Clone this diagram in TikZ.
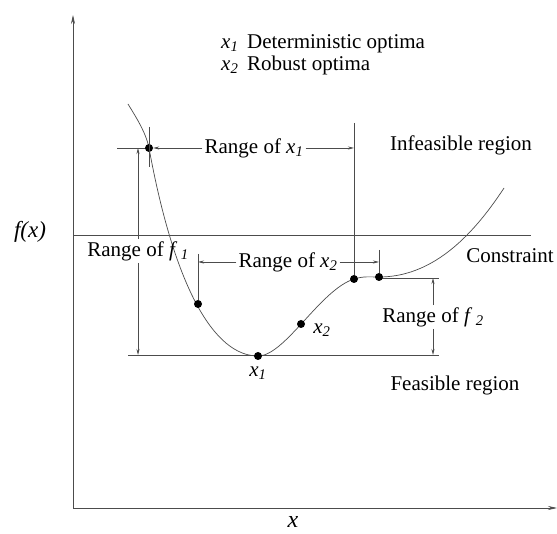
\documentclass[tikz,border=0pt]{standalone}
\usepackage{fontspec}
\setmainfont{Liberation Serif}
\usetikzlibrary{arrows.meta,positioning,calc}
\newcommand{\xsub}[2]{\textit{#1}\textsubscript{\textit{#2}}}

\begin{document}
\begin{tikzpicture}[x=1pt,y=-1pt,
    thinline/.style={draw=black!70, line width=0.7pt},
    dim/.style={thinline, -{Stealth[length=6pt,width=3pt]}},
    dot/.style={circle, fill=black, inner sep=0pt, minimum size=8pt},
    lbl/.style={font=\fontsize{21}{25}\selectfont, inner sep=2pt},
    >=Stealth
  ]
  \useasboundingbox (0,0) rectangle (557,534);

  % axes
  \coordinate (origin) at (73,508);
  \draw[thinline, -{Stealth[length=9pt,width=4pt]}] (origin) -- (73,15);
  \draw[thinline, -{Stealth[length=9pt,width=4pt]}] (origin) -- (557,508);
  \node[lbl, font=\fontsize{23}{27}\selectfont\itshape] (fx) at (30,232) {f(x)};
  \node[lbl, font=\fontsize{24}{28}\selectfont\itshape] (xlab) at (293,522) {x};

  % legend
  \node[lbl, anchor=west] (leg1) at (219,44) {\xsub{x}{1}\, Deterministic optima};
  \node[lbl, anchor=west] (leg2) at (219,65) {\xsub{x}{2}\, Robust optima};

  % reference lines
  \draw[thinline] (73,235) -- (531,235);
  \draw[thinline] (128,355) -- (439,355);
  \draw[thinline] (117,148) -- (149,148);
  \draw[thinline] (380,278) -- (439,278);

  % curve
  \draw[thinline] (128,104) .. controls (134,114) and (146,132) .. (149,148)
    .. controls (175,290) and (215,356) .. (258,356)
    .. controls (285,356) and (320,290) .. (354,279)
    .. controls (364,276) and (370,277) .. (379,277)
    .. controls (430,277) and (470,240) .. (504,188);

  % points on the curve
  \node[dot] (p1) at (149,148) {};
  \node[dot] (p2) at (198,304) {};
  \node[dot] (p3) at (258,356) {};
  \node[dot] (p4) at (301,324) {};
  \node[dot] (p5) at (354,279) {};
  \node[dot] (p6) at (379,277) {};
  \node[lbl, below=4pt of p3] (x1) {\xsub{x}{1}};
  \node[lbl] (x2) at (322,330) {\xsub{x}{2}};

  % Range of x1
  \coordinate (x1tick) at (149,127);
  \coordinate (x1end) at (354,123);
  \draw[thinline] (x1tick) -- (149,167);
  \draw[thinline] (x1end) -- (p5);
  \node[lbl] (rx1) at (254,148) {Range of \xsub{x}{1}};
  \draw[dim] (rx1) -- (p1);
  \draw[dim] (rx1) -- (rx1 -| x1end);

  % Range of f1
  \node[lbl] (rf1) at (138,251) {Range of \textit{f}\,\textsubscript{\textit{1}}};
  \coordinate (f1top) at (138,148);
  \coordinate (f1bot) at (138,355);
  \draw[dim] (rf1) -- (f1top);
  \draw[dim] (rf1) -- (f1bot);

  % Range of x2
  \coordinate (x2left) at (198,254);
  \coordinate (x2right) at (379,250);
  \draw[thinline] (x2left) -- (p2);
  \draw[thinline] (x2right) -- (p6);
  \node[lbl] (rx2) at (288,262) {Range of \xsub{x}{2}};
  \draw[dim] (rx2) -- (rx2 -| x2left);
  \draw[dim] (rx2) -- (rx2 -| x2right);

  % Range of f2
  \node[lbl] (rf2) at (433,317) {Range of \textit{f}\,\textsubscript{\textit{2}}};
  \coordinate (f2top) at (433,278);
  \coordinate (f2bot) at (433,355);
  \draw[dim] (rf2) -- (f2top);
  \draw[dim] (rf2) -- (f2bot);

  % regions
  \node[lbl] (infeas) at (461,145) {Infeasible region};
  \node[lbl] (constr) at (510,256) {Constraint};
  \node[lbl] (feas) at (455,385) {Feasible region};
\end{tikzpicture}
\end{document}
